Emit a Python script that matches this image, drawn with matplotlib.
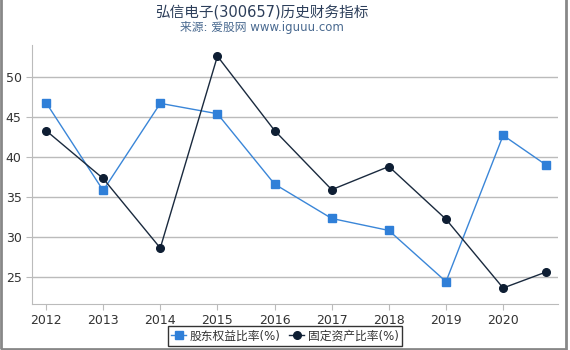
import matplotlib
matplotlib.use("Agg")
import matplotlib.pyplot as plt
from matplotlib.patches import Rectangle

plt.rcParams['font.family'] = ['DejaVu Sans', 'Noto Sans CJK SC']

years = [2012, 2013, 2014, 2015, 2016, 2017, 2018, 2019, 2020, 2020.75]
equity_ratio = [46.8, 35.8, 46.7, 45.4, 36.6, 32.3, 30.8, 24.4, 42.7, 39.0]
fixed_asset_ratio = [43.3, 37.3, 28.6, 52.6, 43.3, 35.9, 38.8, 32.2, 23.6, 25.6]
xtick_years = [2012, 2013, 2014, 2015, 2016, 2017, 2018, 2019, 2020]
yticks = [25, 30, 35, 40, 45, 50]
title = "弘信电子(300657)历史财务指标"
subtitle = "来源: 爱股网 www.iguuu.com"
series_names = ["股东权益比率(%)", "固定资产比率(%)"]

fig = plt.figure(figsize=(5.7, 3.5), dpi=100)
ax = fig.add_axes([32/570, 1-304/350, (558-32)/570, (304-45)/350])

ax.plot(years, equity_ratio, color='#3a86d8', lw=1.0, marker='s', ms=5.5,
        markerfacecolor='#2f7fd8', markeredgecolor='#2f7fd8', label=series_names[0], zorder=3)
ax.plot(years, fixed_asset_ratio, color='#1a2a3e', lw=1.0, marker='o', ms=5.5,
        markerfacecolor='#0e1e33', markeredgecolor='#0e1e33', label=series_names[1], zorder=3)

ax.set_xlim(2011.755, 2020.96)
ax.set_ylim(21.6, 54)
ax.set_xticks(xtick_years)
ax.set_xticklabels([str(y) for y in xtick_years])
ax.set_yticks(yticks)
ax.grid(axis='y', color='#bbbbbb', lw=1.0)
ax.set_axisbelow(True)
for s in ['top', 'right']:
    ax.spines[s].set_visible(False)
ax.spines['left'].set_color('#bbbbbb')
ax.spines['bottom'].set_color('#bbbbbb')
ax.tick_params(axis='both', colors='#bbbbbb', labelcolor='#333333', labelsize=9, length=4)

fig.text(262/570, 1-12/350, title, ha='center', va='center', fontsize=10.5, color='#2c3e5a')
fig.text(262/570, 1-28/350, subtitle, ha='center', va='center', fontsize=8.5, color='#4a6a90')

leg = fig.legend(loc='center', bbox_to_anchor=(285/570, 1-336/350), ncol=2, fontsize=8.5,
                 frameon=True, fancybox=False, edgecolor='black', handlelength=1.3,
                 handletextpad=0.3, columnspacing=0.7, borderpad=0.3, borderaxespad=0)
leg.get_frame().set_linewidth(1.0)
for t in leg.get_texts():
    t.set_color('#333333')

fig.patches.append(Rectangle((0.001, 0.004), 0.992, 1.2, transform=fig.transFigure,
                             fill=False, edgecolor='#888888', lw=2))

fig.savefig('out.png', dpi=100)
